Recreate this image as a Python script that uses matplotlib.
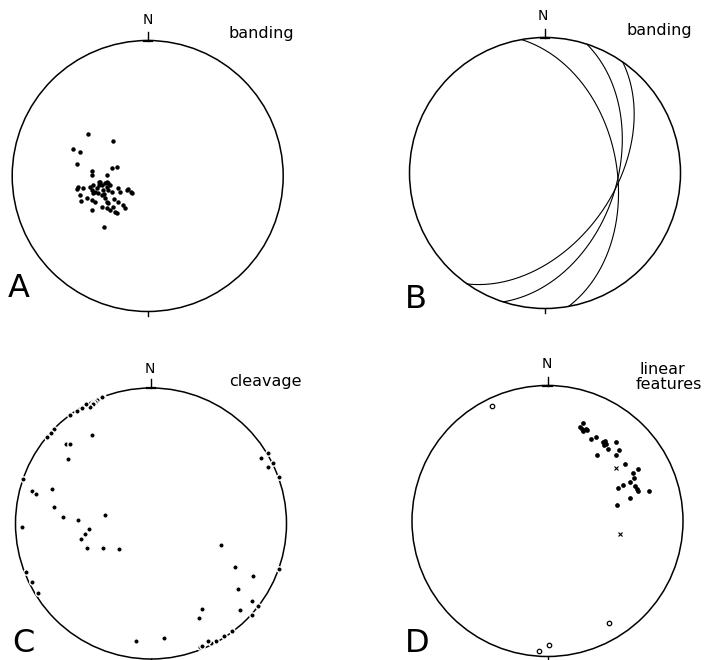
import numpy as np
import matplotlib
matplotlib.use("Agg")
import matplotlib.pyplot as plt
from matplotlib.patches import Circle

# A: poles to banding (east, north in units of net radius)
band_e = [-0.443, -0.256, -0.551, -0.502, -0.524, -0.413, -0.413, -0.266, -0.229, -0.303,
          -0.512, -0.524, -0.475, -0.426, -0.413, -0.401, -0.389, -0.376, -0.352, -0.339,
          -0.315, -0.303, -0.291, -0.303, -0.365, -0.339, -0.217, -0.204, -0.155, -0.118,
          -0.500, -0.450, -0.413, -0.389, -0.315, -0.303, -0.291, -0.413, -0.339, -0.303,
          -0.278, -0.254, -0.241, -0.229, -0.180, -0.168, -0.320, -0.494, -0.401, -0.357,
          -0.291, -0.148, -0.125, -0.36, -0.33, -0.28, -0.26, -0.32, -0.25, -0.22]
band_n = [0.308, 0.256, 0.199, 0.175, 0.091, 0.039, 0.007, 0.057, 0.069, 0.007,
          -0.079, -0.096, -0.091, -0.079, -0.103, -0.066, -0.116, -0.091, -0.042, -0.066,
          -0.054, -0.079, -0.103, -0.042, -0.128, -0.140, -0.091, -0.116, -0.103, -0.128,
          -0.140, -0.165, -0.177, -0.190, -0.165, -0.190, -0.201, -0.251, -0.227, -0.238,
          -0.251, -0.227, -0.263, -0.275, -0.214, -0.238, -0.379, -0.182, -0.128, -0.046,
          -0.050, -0.096, -0.120, -0.07, -0.10, -0.07, -0.12, -0.13, -0.17, -0.19]

# B: banding planes as great circles
plane_strike = [350, 18, 35]
plane_dip = [46, 46, 48]

# C: poles to cleavage
cleav_e = [-0.352, -0.364, -0.401, -0.413, -0.426, -0.430, -0.450, -0.480, -0.511, -0.544,
           -0.598, -0.714, -0.740, -0.770, -0.435, -0.627, -0.598, -0.610, -0.947, -0.876,
           -0.849, -0.733, -0.716, -0.649, -0.537, -0.337, -0.952, -0.455, -0.487, -0.517,
           -0.475, -0.356, -0.238, -0.923, -0.878, -0.836, 0.517, 0.622, 0.755, 0.945,
           0.640, 0.376, 0.356, 0.659, 0.745, 0.792, 0.745, 0.600, 0.539, 0.480,
           0.445, 0.421, 0.362, 0.374, 0.098, -0.113, 0.812, 0.861, 0.903, 0.861, 0.947]
cleav_n = [0.936, 0.931, 0.911, 0.899, 0.887, 0.882, 0.858, 0.882, 0.850, 0.830,
           0.803, 0.700, 0.670, 0.636, 0.653, 0.589, 0.589, 0.478, 0.328, 0.240,
           0.220, 0.257, 0.120, 0.048, 0.024, 0.063, -0.028, -0.043, -0.077, -0.117,
           -0.183, -0.183, -0.186, -0.356, -0.434, -0.511, -0.161, -0.321, -0.387, -0.334,
           -0.483, -0.629, -0.701, -0.636, -0.570, -0.611, -0.673, -0.793, -0.828, -0.869,
           -0.880, -0.865, -0.909, -0.904, -0.847, -0.867, 0.486, 0.518, 0.449, 0.419, 0.345]

# D: linear features
lin_e = [0.264, 0.240, 0.252, 0.264, 0.284, 0.294, 0.319, 0.360, 0.412, 0.424,
         0.432, 0.417, 0.444, 0.363, 0.506, 0.530, 0.503, 0.572, 0.666, 0.633,
         0.638, 0.609, 0.559, 0.523, 0.646, 0.658, 0.666, 0.749, 0.609, 0.515]
lin_n = [0.725, 0.692, 0.677, 0.666, 0.681, 0.672, 0.607, 0.618, 0.583, 0.593,
         0.568, 0.561, 0.529, 0.485, 0.581, 0.524, 0.485, 0.421, 0.386, 0.352,
         0.315, 0.288, 0.268, 0.241, 0.258, 0.234, 0.221, 0.221, 0.170, 0.120]
cross_e = [0.508, 0.535]
cross_n = [0.390, -0.096]
open_e = [-0.412, 0.456, -0.063, 0.009]
open_n = [0.846, -0.751, -0.957, -0.915]


def great_circle(strike, dip, n=200):
    # lower-hemisphere equal-area trace of a plane (right-hand rule)
    s = np.radians(strike)
    dd = np.radians(strike + 90)
    d = np.radians(dip)
    t = np.linspace(0, np.pi, n)
    sv = np.array([np.sin(s), np.cos(s), 0.0])
    dv = np.array([np.sin(dd) * np.cos(d), np.cos(dd) * np.cos(d), np.sin(d)])
    v = np.outer(np.cos(t), sv) + np.outer(np.sin(t), dv)
    plunge = np.arcsin(np.clip(v[:, 2], -1, 1))
    trend = np.arctan2(v[:, 0], v[:, 1])
    r = np.sqrt(2) * np.sin((np.pi / 2 - plunge) / 2)
    return r * np.sin(trend), r * np.cos(trend)


W, H = 709, 660
fig = plt.figure(figsize=(W / 100, H / 100), dpi=100)


def net(cx, cy, R, half=150):
    ax = fig.add_axes([(cx - half) / W, (H - cy - half) / H, 2 * half / W, 2 * half / H])
    lim = half / R
    ax.set_xlim(-lim, lim)
    ax.set_ylim(-lim, lim)
    ax.axis("off")
    ax.add_patch(Circle((0, 0), 1, fill=False, lw=1.1, color="black", zorder=1))
    ax.plot([0, 0], [1, 1.065], color="black", lw=1.0)
    ax.plot([-0.03, 0.03], [1.0, 1.0], color="black", lw=1.6)
    ax.plot([0, 0], [-1, -1.03], color="black", lw=1.0)
    return ax


def label(x, y, s, size, **kw):
    fig.text(x / W, 1 - y / H, s, fontsize=size, family="DejaVu Sans", **kw)


# A
ax = net(147.7, 176, 135.5)
ax.plot(band_e, band_n, "o", ms=3.2, color="black", mec="none")
label(147.5, 20, "N", 10, ha="center", va="center")
label(228, 38, "banding", 11.5, va="baseline")
label(8, 297, "A", 23, va="baseline")

# B
ax = net(545, 173, 135.5)
for s, d in zip(plane_strike, plane_dip):
    x, y = great_circle(s, d)
    ax.plot(x, y, color="black", lw=0.8)
label(543, 16.5, "N", 10, ha="center", va="center")
label(626, 35, "banding", 11.5, va="baseline")
label(405, 308, "B", 23, va="baseline")

# C: white rims break the primitive circle where poles sit on it
ax = net(151, 523.5, 135.5)
ax.plot(cleav_e, cleav_n, "o", ms=3.9, color="black", mec="white", mew=1.0, zorder=3)
label(150, 369, "N", 10, ha="center", va="center")
label(229, 386, "cleavage", 11.5, va="baseline")
label(12, 659, "C", 23, va="bottom")

# D
ax = net(547.5, 521, 135.5)
ax.plot(lin_e, lin_n, "o", ms=3.4, color="black", mec="none")
ax.plot(cross_e, cross_n, "x", ms=3, color="black", mew=0.8)
ax.plot(open_e, open_n, "o", ms=3.2, mfc="white", mec="black", mew=0.9)
label(547, 364.5, "N", 10, ha="center", va="center")
label(662, 374, "linear", 11.5, ha="center", va="baseline")
label(669, 389, "features", 11.5, ha="center", va="baseline")
label(405, 659, "D", 23, va="bottom")

fig.savefig("out.png", dpi=100, facecolor="white")
